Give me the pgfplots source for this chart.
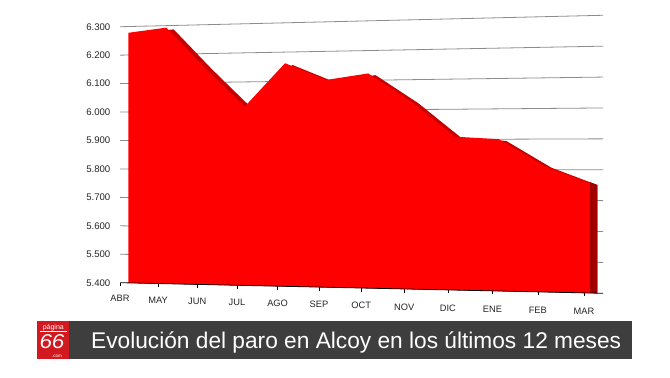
\documentclass[border=0pt]{standalone}
\usepackage{fontspec}
\setmainfont{Liberation Sans}
\usepackage{pgfplots}
\pgfplotsset{compat=1.18}
\usepgfplotslibrary{fillbetween}
\usepackage{pgfplotstable}
\definecolor{areared}{HTML}{FF0000}
\definecolor{topred}{HTML}{C80000}
\definecolor{sidered}{HTML}{A00000}
\definecolor{gridgray}{HTML}{8C8C8C}
\definecolor{bargray}{HTML}{3E3E3E}
\definecolor{logored}{HTML}{D2191F}
\definecolor{labcol}{HTML}{262626}

% paro registrado (personas), abril a marzo
\pgfplotstableread{
i v lab
0 6278 ABR
1 6293 MAY
2 6150 JUN
3 6015 JUL
4 6162 AGO
5 6103 SEP
6 6123 OCT
7 6027 NOV
8 5909 DIC
9 5900 ENE
10 5812 FEB
11 5756 MAR
}\data

\pgfplotstableread{
v lab
5400 5.400
5500 5.500
5600 5.600
5700 5.700
5800 5.800
5900 5.900
6000 6.000
6100 6.100
6200 6.200
6300 6.300
}\ylabs

\pgfplotstableread{
i d
0 0
11 0
}\ends

\pgfplotstableread{
p d
120 0
603 0
}\gridends

\begin{document}
\begin{tikzpicture}[x=1bp,y=1bp]
\path (0,0) rectangle (670,377);
\begin{axis}[
  at={(0,0)}, anchor=south west,
  scale only axis, width=670bp, height=377bp,
  xmin=0, xmax=670, ymin=0, ymax=377,
  hide axis, clip=false, set layers,
  declare function={
    TK(\i)=120+42.18*\i+0.397*\i*(\i-11);
    PX(\i)=TK(\i)+8.3-0.21*\i;
    YP(\p,\v)=282.7+10.6*((\p-120)/483)-(\v-5400)*(0.2844+0.0245*((\p-120)/483));
  },
]
\begin{pgfonlayer}{axis background}
\fill[white] (axis cs:0,0) rectangle (axis cs:670,377);
\end{pgfonlayer}
% back-wall grid lines (perspective)
\pgfplotsinvokeforeach{5500,5600,5700,5800,5900,6000,6100,6200,6300}{
  \addplot[gridgray, line width=0.8pt, on layer=axis grid]
    table[x=p, y expr={377-YP(\thisrow{p},#1)}] {\gridends};
}
% outlines of the 3-D area
\addplot[draw=none, name path=F]
  table[x expr={PX(\thisrow{i})}, y expr={377-YP(PX(\thisrow{i}),\thisrow{v})}] {\data};
\addplot[draw=none, name path=FF]
  table[x expr={PX(\thisrow{i})}, y expr={377-YP(PX(\thisrow{i}),5400)}] {\ends};
\addplot[draw=none, name path=B]
  table[x expr={PX(\thisrow{i})+7.3}, y expr={377-YP(PX(\thisrow{i}),\thisrow{v})-1.7}] {\data};
\addplot[draw=none, name path=BF]
  table[x expr={PX(\thisrow{i})+7.3}, y expr={377-YP(PX(\thisrow{i})+7.3,5400)}] {\ends};
\addplot[topred] fill between[of=B and BF];
\addplot[sidered] fill between[of=B and BF, soft clip={domain=590:600}];
\addplot[areared] fill between[of=F and FF];
% floor line
\addplot[black, line width=0.8pt]
  table[x=p, y expr={377-YP(\thisrow{p},5400)}] {\gridends};
% category ticks
\addplot[only marks, mark=|, mark size=1.8, mark options={black, line width=0.6pt}]
  table[x expr={TK(\thisrow{i})}, y expr={377-YP(TK(\thisrow{i}),5400)-1.8}] {\data};
% category labels
\addplot[draw=none, nodes near coords={\pgfplotspointmeta}, point meta=explicit symbolic,
  every node near coord/.append style={anchor=center, inner sep=0pt, text=labcol,
    font=\fontsize{9.3bp}{11bp}\selectfont}]
  table[x expr={TK(\thisrow{i})}, y expr={377-298.7-1.18*\thisrow{i}}, meta=lab] {\data};
% value labels
\addplot[draw=none, nodes near coords={\pgfplotspointmeta}, point meta=explicit symbolic,
  every node near coord/.append style={anchor=east, inner sep=0pt, text=labcol,
    font=\fontsize{9.6bp}{11bp}\selectfont}]
  table[x expr={110.5}, y expr={377-YP(120,\thisrow{v})}, meta=lab] {\ylabs};
\end{axis}
% caption banner
\fill[bargray] (37,18.3) rectangle (632,55.7);
\fill[logored] (37.3,18.3) rectangle (69.3,55.7);
\node[anchor=base, text=white, inner sep=0pt, font=\fontsize{7bp}{8bp}\selectfont] at (53.3,48) {página};
\draw[white, line width=0.5bp] (39.5,45.6) -- (67,45.6);
\node[anchor=base, text=white, inner sep=0pt, font=\fontsize{20bp}{22bp}\selectfont\itshape] at (52,28.5) {\scalebox{1.12}[1]{66}};
\node[anchor=base, text=white, inner sep=0pt, font=\fontsize{4.5bp}{5bp}\selectfont] at (57,19.3) {.com};
\node[anchor=base west, text=white, inner sep=0pt, font=\fontsize{22.7bp}{27bp}\selectfont] at (91,28.3) {Evolución del paro en Alcoy en los últimos 12 meses};
\end{tikzpicture}
\end{document}
